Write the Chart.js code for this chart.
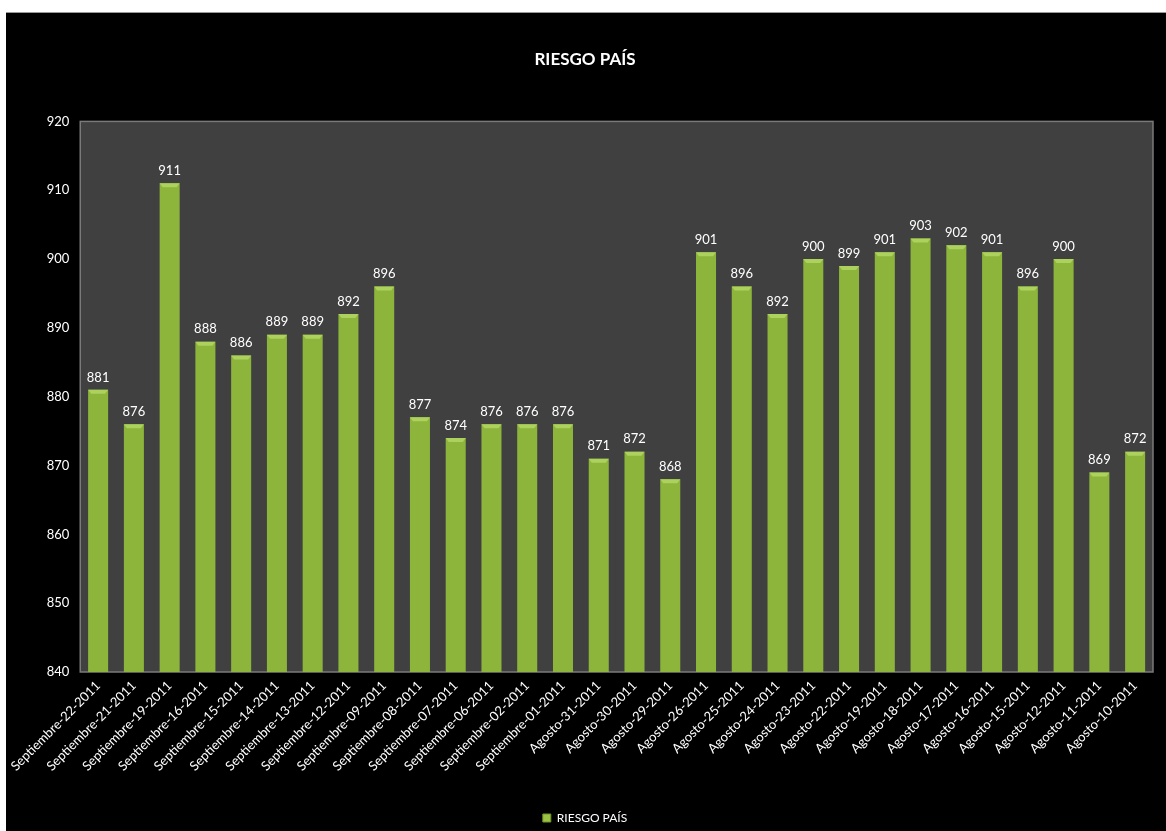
<!DOCTYPE html>
<html>
<head>
<meta charset="utf-8">
<script src="https://cdn.jsdelivr.net/npm/chart.js@4.4.1/dist/chart.umd.min.js"></script>
<style>
  html, body { margin: 0; padding: 0; background: #ffffff; width: 1166px; height: 831px; overflow: hidden; }
  #wrap { position: absolute; left: 6px; top: 12px; width: 1160px; height: 819px; background: #000000; border-top: 1px solid #9a9a9a; box-sizing: border-box; overflow: hidden; }
  canvas { display: block; }
</style>
</head>
<body>
<div id="wrap"><canvas id="c" width="1160" height="821"></canvas></div>
<script>
const categories = [
  "Septiembre-22-2011","Septiembre-21-2011","Septiembre-19-2011","Septiembre-16-2011",
  "Septiembre-15-2011","Septiembre-14-2011","Septiembre-13-2011","Septiembre-12-2011",
  "Septiembre-09-2011","Septiembre-08-2011","Septiembre-07-2011","Septiembre-06-2011",
  "Septiembre-02-2011","Septiembre-01-2011","Agosto-31-2011","Agosto-30-2011",
  "Agosto-29-2011","Agosto-26-2011","Agosto-25-2011","Agosto-24-2011",
  "Agosto-23-2011","Agosto-22-2011","Agosto-19-2011","Agosto-18-2011",
  "Agosto-17-2011","Agosto-16-2011","Agosto-15-2011","Agosto-12-2011",
  "Agosto-11-2011","Agosto-10-2011"
];
const riesgoPais = [
  881, 876, 911, 888, 886, 889, 889, 892, 896, 877,
  874, 876, 876, 876, 871, 872, 868, 901, 896, 892,
  900, 899, 901, 903, 902, 901, 896, 900, 869, 872
];
const yTicks = { min: 840, max: 920, step: 10 };
const seriesName = "RIESGO PAÍS";
const chartTitle = "RIESGO PAÍS";

const FONT = "Lato, 'Open Sans', sans-serif";

const plotBg = {
  id: 'plotBg',
  beforeDatasetsDraw(chart) {
    const a = chart.chartArea, ctx = chart.ctx;
    ctx.save();
    ctx.fillStyle = '#404040';
    ctx.fillRect(a.left, a.top, a.right - a.left, a.bottom - a.top);
    ctx.strokeStyle = '#7a7a7a';
    ctx.lineWidth = 1.5;
    ctx.strokeRect(a.left, a.top, a.right - a.left, a.bottom - a.top);
    ctx.restore();
  }
};

const barCaps = {
  id: 'barCaps',
  afterDatasetsDraw(chart) {
    const ctx = chart.ctx;
    const meta = chart.getDatasetMeta(0);
    ctx.save();
    meta.data.forEach((bar, i) => {
      const w = bar.width, x0 = bar.x - w / 2, y = bar.y;
      ctx.fillStyle = '#acd15c';
      ctx.beginPath();
      ctx.moveTo(x0, y);
      ctx.lineTo(x0 + w, y);
      ctx.lineTo(x0 + w - 3, y + 4);
      ctx.lineTo(x0 + 3, y + 4);
      ctx.closePath();
      ctx.fill();
      ctx.fillStyle = '#ffffff';
      ctx.font = "13px " + FONT;
      ctx.textAlign = 'center';
      ctx.textBaseline = 'bottom';
      ctx.fillText(String(riesgoPais[i]), bar.x, y - 6);
    });
    ctx.restore();
  }
};

const ctx = document.getElementById('c').getContext('2d');
new Chart(ctx, {
  type: 'bar',
  data: {
    labels: categories,
    datasets: [{
      label: seriesName,
      data: riesgoPais,
      backgroundColor(c) {
        const chart = c.chart;
        const meta = chart.getDatasetMeta(0);
        const el = meta.data[c.dataIndex];
        if (!el || !isFinite(el.x) || !el.width) return '#8db53c';
        const x0 = el.x - el.width / 2;
        const g = chart.ctx.createLinearGradient(x0, 0, x0 + el.width, 0);
        g.addColorStop(0, '#6f9428');
        g.addColorStop(0.15, '#8cb53a');
        g.addColorStop(0.5, '#9ac244');
        g.addColorStop(0.85, '#8cb53a');
        g.addColorStop(1, '#6f9428');
        return g;
      },
      borderWidth: 0,
      barPercentage: 0.56,
      categoryPercentage: 1.0
    }]
  },
  options: {
    responsive: false,
    animation: false,
    layout: { padding: { left: 11, right: 13, top: 0, bottom: 0 } },
    plugins: {
      title: {
        display: true,
        text: chartTitle,
        color: '#ffffff',
        font: { family: FONT, size: 17, weight: 'bold' },
        padding: { top: 36, bottom: 52 }
      },
      legend: {
        display: true,
        position: 'bottom',
        labels: {
          color: '#ffffff',
          font: { family: FONT, size: 12 },
          boxWidth: 8,
          boxHeight: 8,
          padding: 4,
          generateLabels(chart) {
            return [{ text: seriesName, fillStyle: '#9ac244', strokeStyle: '#6f9428', lineWidth: 1, fontColor: '#ffffff', datasetIndex: 0 }];
          }
        }
      },
      tooltip: { enabled: false }
    },
    scales: {
      x: {
        grid: { display: false, drawTicks: false },
        border: { display: false },
        ticks: {
          color: '#ffffff',
          font: { family: FONT, size: 13 },
          maxRotation: 45,
          minRotation: 45,
          autoSkip: false,
          padding: 6
        },
        afterFit(scale) { scale.height = 136; }
      },
      y: {
        min: yTicks.min,
        max: yTicks.max,
        grid: { display: false, drawTicks: false },
        border: { display: false },
        ticks: {
          stepSize: yTicks.step,
          color: '#ffffff',
          font: { family: FONT, size: 13 },
          padding: 11
        },
        afterFit(scale) { scale.width = 59; }
      }
    }
  },
  plugins: [plotBg, barCaps]
});
</script>
</body>
</html>
